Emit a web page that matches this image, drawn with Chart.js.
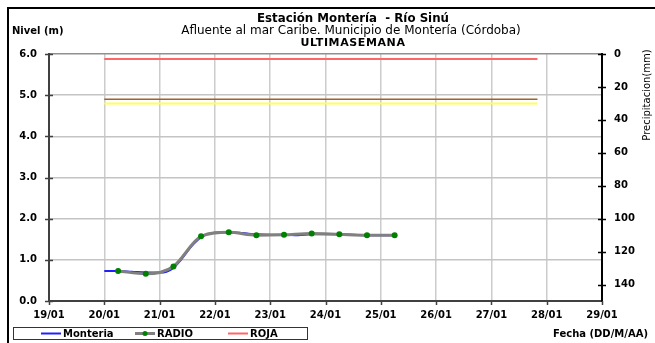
<!DOCTYPE html>
<html>
<head>
<meta charset="utf-8">
<script src="https://cdn.jsdelivr.net/npm/chart.js@4.4.1/dist/chart.umd.min.js"></script>
<style>
  html, body { margin: 0; padding: 0; background: #ffffff; }
  canvas { display: block; }
</style>
</head>
<body>
<canvas id="nivel" width="655" height="343"></canvas>
<script>
// Axis tick labels
const dayTicks = ['19/01', '20/01', '21/01', '22/01', '23/01', '24/01', '25/01', '26/01', '27/01', '28/01', '29/01'];
const levelTicks = ['0.0', '1.0', '2.0', '3.0', '4.0', '5.0', '6.0'];
const rainTicks = ['0', '20', '40', '60', '80', '100', '120', '140'];

// Monteria station level readings (m)
const monteriaTimes = [
  '20/01 00:00', '20/01 06:00', '20/01 12:00', '20/01 18:00',
  '21/01 00:00', '21/01 03:00', '21/01 06:00', '21/01 09:00', '21/01 12:00', '21/01 15:00', '21/01 18:00', '21/01 21:00',
  '22/01 00:00', '22/01 06:00', '22/01 12:00', '22/01 18:00',
  '23/01 00:00', '23/01 06:00', '23/01 12:00', '23/01 18:00',
  '24/01 00:00', '24/01 06:00', '24/01 12:00', '24/01 18:00',
  '25/01 00:00', '25/01 06:00'
];
const monteriaLevels = [
  0.73, 0.73, 0.71, 0.69,
  0.69, 0.71, 0.80, 0.98, 1.20, 1.40, 1.55, 1.63,
  1.66, 1.67, 1.65, 1.62,
  1.61, 1.61, 1.60, 1.62,
  1.62, 1.62, 1.61, 1.60,
  1.60, 1.60
];

// Radio reports (m)
const radioTimes = [
  '20/01 06:00', '20/01 18:00', '21/01 06:00', '21/01 18:00', '22/01 06:00', '22/01 18:00',
  '23/01 06:00', '23/01 18:00', '24/01 06:00', '24/01 18:00', '25/01 06:00'
];
const radioLevels = [0.73, 0.66, 0.84, 1.57, 1.67, 1.60, 1.61, 1.64, 1.62, 1.60, 1.60];

// Alert thresholds (m) and the span they are drawn over
const alertSpan = ['20/01 00:00', '27/01 20:00'];
const rojaLevel = 5.88;
const naranjaLevel = 4.90;
const amarillaLevel = 4.80;

function toDay(stamp) {
  const [date, time] = stamp.split(' ');
  const day = parseInt(date.split('/')[0], 10);
  const [h, m] = time.split(':').map(Number);
  return day + (h + m / 60) / 24;
}
function points(times, values) {
  return times.map((t, i) => ({ x: toDay(t), y: values[i] }));
}
function flat(level) {
  return alertSpan.map(t => ({ x: toDay(t), y: level }));
}

const BOLD = 'bold 10px "DejaVu Sans"';

const decorations = {
  id: 'decorations',
  beforeDraw(chart) {
    const c = chart.ctx;
    c.save();
    c.fillStyle = '#ffffff';
    c.fillRect(0, 0, chart.width, chart.height);
    c.restore();
  },
  afterDraw(chart) {
    const c = chart.ctx;
    const a = chart.chartArea;
    const sx = chart.scales.x, sy = chart.scales.y, sy2 = chart.scales.y2;
    c.save();

    // frame
    c.fillStyle = '#000000';
    c.fillRect(7, 7, 648, 2);
    c.fillRect(7, 7, 2, 336);

    // crossing tick marks
    c.strokeStyle = '#404040';
    c.lineWidth = 1.5;
    c.beginPath();
    levelTicks.forEach((t, i) => {
      const y = Math.round(sy.getPixelForValue(i)) + 0.5;
      c.moveTo(a.left - 4, y); c.lineTo(a.left + 4, y);
    });
    dayTicks.forEach((t, i) => {
      const x = Math.round(sx.getPixelForValue(19 + i)) + 0.5;
      c.moveTo(x, a.bottom); c.lineTo(x, a.bottom + 4);
    });
    c.stroke();
    c.strokeStyle = '#000000';
    c.beginPath();
    rainTicks.forEach(t => {
      const y = Math.round(sy2.getPixelForValue(Number(t))) + 0.5;
      c.moveTo(a.right - 4, y); c.lineTo(a.right + 4, y);
    });
    c.stroke();

    // header
    c.fillStyle = '#000000';
    c.textAlign = 'center';
    c.textBaseline = 'middle';
    c.font = 'bold 11.8px "DejaVu Sans"';
    c.fillText('Estación Montería  - Río Sinú', 353, 19);
    c.font = '12px "DejaVu Sans"';
    c.fillText('Afluente al mar Caribe. Municipio de Montería (Córdoba)', 351, 31);
    c.font = 'bold 11px "DejaVu Sans"';
    c.letterSpacing = '0.6px';
    c.fillText('ULTIMASEMANA', 353, 43);
    c.letterSpacing = '0px';

    // axis titles
    c.font = BOLD;
    c.textAlign = 'left';
    c.fillText('Nivel (m)', 12, 31);
    c.save();
    c.translate(647, 95);
    c.rotate(-Math.PI / 2);
    c.textAlign = 'center';
    c.font = '10px "DejaVu Sans"';
    c.fillText('Precipitacion(mm)', 0, 0);
    c.restore();
    c.font = BOLD;
    c.textAlign = 'left';
    c.fillText('Fecha (DD/M/AA)', 553, 334);

    // legend
    c.strokeStyle = '#333333';
    c.lineWidth = 1;
    c.strokeRect(13.5, 327.5, 294, 12);
    const ly = 333.5;
    const items = chart.data.datasets.filter(d => d.inLegend);
    items.forEach(d => {
      c.strokeStyle = d.borderColor;
      c.lineWidth = d.borderWidth;
      c.beginPath();
      c.moveTo(d.inLegend[0], ly); c.lineTo(d.inLegend[0] + 20, ly);
      c.stroke();
      if (d.pointRadius > 0) {
        c.fillStyle = d.pointBackgroundColor;
        c.beginPath();
        c.arc(d.inLegend[0] + 10, ly, 2.5, 0, Math.PI * 2);
        c.fill();
      }
      c.fillStyle = '#000000';
      c.font = BOLD;
      c.textAlign = 'left';
      c.fillText(d.label, d.inLegend[0] + 22, ly + 0.5);
    });
    c.restore();
  }
};

const lineBase = { fill: false, pointRadius: 0, pointHoverRadius: 0, yAxisID: 'y' };

new Chart(document.getElementById('nivel'), {
  type: 'line',
  data: {
    datasets: [
      Object.assign({}, lineBase, {
        label: 'RADIO', data: points(radioTimes, radioLevels), order: 0,
        borderColor: '#808080', borderWidth: 3, cubicInterpolationMode: 'monotone',
        pointRadius: 3, pointBackgroundColor: '#008000', pointBorderColor: '#008000', pointBorderWidth: 0,
        inLegend: [135]
      }),
      Object.assign({}, lineBase, {
        label: 'Monteria', data: points(monteriaTimes, monteriaLevels), order: 1,
        borderColor: '#2020ff', borderWidth: 2, cubicInterpolationMode: 'monotone',
        inLegend: [41]
      }),
      Object.assign({}, lineBase, {
        label: 'ROJA', data: flat(rojaLevel), order: 2,
        borderColor: '#ff6666', borderWidth: 2, inLegend: [228]
      }),
      Object.assign({}, lineBase, {
        label: 'NARANJA', data: flat(naranjaLevel), order: 3,
        borderColor: '#a0622d', borderWidth: 1.5
      }),
      Object.assign({}, lineBase, {
        label: 'AMARILLA', data: flat(amarillaLevel), order: 4,
        borderColor: '#ffff55', borderWidth: 2
      })
    ]
  },
  options: {
    responsive: false,
    animation: false,
    devicePixelRatio: 1,
    layout: { padding: { top: 54, left: 0, right: 0, bottom: 0 } },
    plugins: { legend: { display: false }, title: { display: false }, tooltip: { enabled: false } },
    scales: {
      x: {
        type: 'linear', min: 19, max: 29,
        afterFit: s => { s.height = 42; },
        afterBuildTicks: s => { s.ticks = dayTicks.map((t, i) => ({ value: 19 + i })); },
        ticks: {
          callback: (v) => dayTicks[Math.round(v) - 19],
          font: { family: 'DejaVu Sans', size: 10, weight: 'bold' }, color: '#000000',
          padding: 8, maxRotation: 0, autoSkip: false
        },
        grid: { color: '#cccccc', lineWidth: 1.5, drawTicks: false },
        border: { color: '#404040', width: 2 }
      },
      y: {
        position: 'left', min: 0, max: 6,
        afterFit: s => { s.width = 49; },
        afterBuildTicks: s => { s.ticks = levelTicks.map((t, i) => ({ value: i })); },
        ticks: {
          callback: (v) => levelTicks[Math.round(v)],
          font: { family: 'DejaVu Sans', size: 10, weight: 'bold' }, color: '#000000', padding: 12
        },
        grid: { color: (ctx) => ctx.tick && ctx.tick.value === 6 ? '#909090' : '#c4c4c4', lineWidth: 1.5, drawTicks: false },
        border: { color: '#404040', width: 2 }
      },
      y2: {
        position: 'right', min: 0, max: 150, reverse: true,
        afterFit: s => { s.width = 53; },
        afterBuildTicks: s => { s.ticks = rainTicks.map(t => ({ value: Number(t) })); },
        ticks: {
          callback: (v) => String(v),
          font: { family: 'DejaVu Sans', size: 10, weight: 'bold' }, color: '#000000', padding: 12
        },
        grid: { display: false, drawTicks: false },
        border: { color: '#000000', width: 2 }
      }
    }
  },
  plugins: [decorations]
});
</script>
</body>
</html>
